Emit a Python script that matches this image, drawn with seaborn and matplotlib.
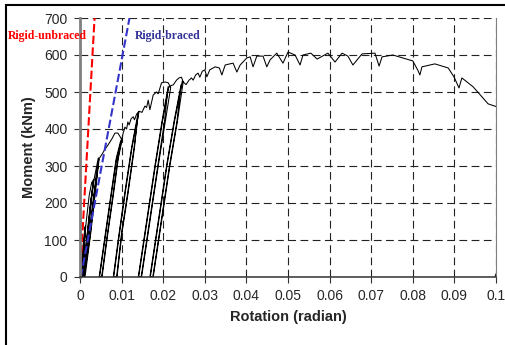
import pandas as pd
import matplotlib
matplotlib.use('Agg')
import matplotlib.pyplot as plt
import seaborn as sns
from matplotlib.patches import Rectangle

# Test curve: rotation (radian) and moment (kNm)
rot = [0, 0.0006, 0.0012, 0.0008, 0.0004, 0.0009, 0.0013, 0.0008, 0.0005, 0.0010, 0.0014,
       0.0022, 0.0028, 0.0032, 0.0022, 0.0012, 0.0007, 0.0015, 0.0024, 0.0033, 0.0023, 0.0013,
       0.0008, 0.0017, 0.0027, 0.0034, 0.0040, 0.0044,
       0.0034, 0.0021, 0.0010, 0.0024, 0.0036, 0.0045, 0.0035, 0.0022, 0.0012, 0.0026, 0.0038, 0.0046,
       0.0052, 0.0060, 0.0068, 0.0076, 0.0084, 0.0091, 0.0096, 0.0101,
       0.0092, 0.0080, 0.0066, 0.0053, 0.0046, 0.0060, 0.0074, 0.0087, 0.0097, 0.0100,
       0.0091, 0.0079, 0.0065, 0.0052, 0.0047, 0.0061, 0.0075, 0.0088, 0.0101,
       0.0104, 0.0108, 0.0112, 0.0115, 0.0118, 0.0123, 0.0128, 0.0131, 0.0136, 0.0141,
       0.0130, 0.0115, 0.0100, 0.0088, 0.0080, 0.0093, 0.0108, 0.0124, 0.0139,
       0.0131, 0.0116, 0.0101, 0.0089, 0.0081, 0.0094, 0.0109, 0.0125, 0.0142,
       0.0149, 0.0156, 0.0160, 0.0164, 0.0168, 0.0176, 0.0184, 0.0188, 0.0192, 0.0196, 0.0205,
       0.0212, 0.0218,
       0.0205, 0.0188, 0.0168, 0.0148, 0.0140, 0.0160, 0.0180, 0.0197, 0.0212,
       0.0203, 0.0187, 0.0167, 0.0147, 0.0141, 0.0161, 0.0181, 0.0198, 0.0213, 0.0220,
       0.0224, 0.0232, 0.0238, 0.0244, 0.0248,
       0.0234, 0.0216, 0.0196, 0.0176, 0.0168, 0.0188, 0.0208, 0.0226, 0.0243,
       0.0233, 0.0215, 0.0195, 0.0175, 0.0169, 0.0189, 0.0209, 0.0227, 0.0246, 0.0250,
       0.0255, 0.0262, 0.0268, 0.0272, 0.0278, 0.0284, 0.0288, 0.0294, 0.0300, 0.0305, 0.0312,
       0.0325, 0.0335, 0.0341, 0.0349, 0.0368, 0.0377, 0.0385, 0.0401, 0.0409, 0.0416, 0.0425,
       0.0440, 0.0449, 0.0457, 0.0473, 0.0488, 0.0500, 0.0517, 0.0529, 0.0536, 0.0555, 0.0570,
       0.0596, 0.0613, 0.0630, 0.0644, 0.0656, 0.0678, 0.0709, 0.0719, 0.0726, 0.0752, 0.0800,
       0.0812, 0.0817, 0.0822, 0.0853, 0.0885, 0.0899, 0.0911, 0.0918, 0.0945, 0.0981, 0.1002,
       0.1008, 0.1012, 0.0997]
mom = [0, 70, 135, 70, 0, 70, 138, 60, 0, 70, 140,
       220, 255, 262, 160, 60, 0, 90, 190, 264, 160, 60,
       0, 100, 210, 265, 300, 322,
       230, 110, 0, 110, 230, 318, 230, 110, 0, 120, 240, 320,
       330, 345, 358, 372, 389, 389, 380, 370,
       320, 220, 110, 0, 0, 110, 220, 320, 365, 372,
       320, 220, 110, 0, 0, 110, 220, 320, 374,
       390, 405, 400, 419, 411, 428, 433, 425, 440, 447,
       350, 230, 120, 0, 0, 110, 230, 350, 440,
       350, 230, 120, 0, 0, 110, 230, 350, 448,
       445, 462, 458, 478, 452, 492, 500, 495, 510, 525, 527,
       525, 512,
       420, 300, 150, 0, 0, 150, 300, 420, 515,
       420, 300, 150, 0, 0, 150, 300, 420, 512, 518,
       519, 532, 538, 540, 527,
       420, 300, 150, 0, 0, 150, 300, 420, 520,
       420, 300, 150, 0, 0, 150, 300, 420, 530, 525,
       520, 532, 538, 532, 546, 551, 540, 556, 560, 541, 560,
       568, 565, 546, 573, 578, 554, 573, 592, 595, 568, 597,
       597, 568, 587, 605, 578, 608, 600, 573, 600, 605, 589,
       605, 581, 605, 597, 573, 603, 605, 570, 595, 600, 584,
       559, 546, 568, 576, 565, 541, 511, 538, 514, 468, 460,
       455, 40, 0]

# Reference stiffness lines
unbraced_rot = [0, 0.0035]
unbraced_mom = [0, 700]
braced_rot = [0.0002, 0.0119]
braced_mom = [0, 700]

x_ticks = [0, 0.01, 0.02, 0.03, 0.04, 0.05, 0.06, 0.07, 0.08, 0.09, 0.1]
x_labels = ['0', '0.01', '0.02', '0.03', '0.04', '0.05', '0.06', '0.07', '0.08', '0.09', '0.1']
y_ticks = [0, 100, 200, 300, 400, 500, 600, 700]

sns.set_style('white')
plt.rcParams['font.family'] = ['Liberation Sans', 'DejaVu Sans']

fig = plt.figure(figsize=(5.05, 3.45), dpi=100)
ax = fig.add_axes([80/505, 1-277/345, 416/505, 259/345])

test_df = pd.DataFrame({'rot': rot, 'mom': mom})
sns.lineplot(data=test_df, x='rot', y='mom', sort=False, estimator=None,
             color='black', linewidth=0.75, ax=ax, zorder=3)
sns.lineplot(x=unbraced_rot, y=unbraced_mom, color='#ff0000', linewidth=1.5,
             linestyle=(0, (4, 1.6)), ax=ax, zorder=4)
sns.lineplot(x=braced_rot, y=braced_mom, color='#3333cc', linewidth=1.5,
             linestyle=(0, (4, 1.6)), ax=ax, zorder=4)

ax.set_xlim(0, 0.1)
ax.set_ylim(0, 700)
ax.set_xticks(x_ticks)
ax.set_xticklabels(x_labels)
ax.set_yticks(y_ticks)
ax.grid(True, color='#222222', linewidth=0.8, linestyle=(0, (7, 4)))
ax.tick_params(axis='both', labelsize=10, length=4, width=0.8, pad=5,
               color='#333333', direction='out', bottom=True, left=True)

ax.spines['top'].set_visible(False)
ax.spines['left'].set_color('#808080')
ax.spines['left'].set_linewidth(2)
ax.spines['bottom'].set_color('#333333')
ax.spines['bottom'].set_linewidth(1.1)
ax.spines['right'].set_color('#808080')
ax.spines['right'].set_linewidth(0.8)
for sp in ax.spines.values():
    sp.set_zorder(5)

ax.set_xlabel('Rotation (radian)', fontsize=10.5, fontweight='bold', labelpad=5)
ax.set_ylabel('Moment (kNm)', fontsize=10.5, fontweight='bold', labelpad=6)

fig.text(8/505, 1-36/345, 'Rigid-unbraced', color='#ff0000', fontsize=8.5,
         fontweight='bold', family=['Liberation Serif', 'DejaVu Serif'], va='center')
ax.text(0.0132, 651, 'Rigid-braced', color='#333399', fontsize=8.5,
        fontweight='bold', family=['Liberation Serif', 'DejaVu Serif'], va='center', zorder=6)

# outer frame, cropped at right and bottom like the source
fig.patches.append(Rectangle((6/505, -0.1), 1.2, 1 - 5.5/345 + 0.1, transform=fig.transFigure,
                             fill=False, edgecolor='black', linewidth=1.5))

fig.savefig('out.png', dpi=100)
